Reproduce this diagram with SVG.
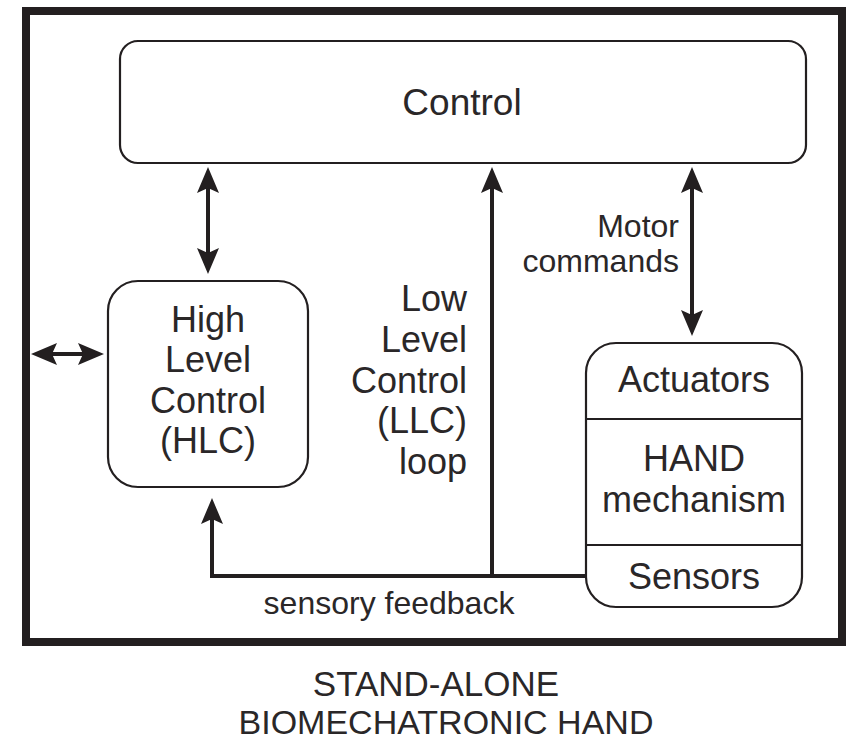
<svg xmlns="http://www.w3.org/2000/svg" width="850" height="742" viewBox="0 0 850 742">
  <style>
    .box { fill: #ffffff; stroke: #231f20; stroke-width: 2.2; }
    .conn { fill: none; stroke: #231f20; stroke-width: 4; }
    .t { font-family: "Liberation Sans", Arial, sans-serif; fill: #2a2728; }
    .big { font-size: 36px; }
    .mid { font-size: 32px; }
  </style>
  <defs>
    <marker id="ah" viewBox="0 0 26 22" refX="16" refY="11" markerWidth="26" markerHeight="22" markerUnits="userSpaceOnUse" orient="auto-start-reverse">
      <path d="M0,0 L26,11 L0,22 L5,11 Z" fill="#231f20"/>
    </marker>
  </defs>
  <rect width="850" height="742" fill="#ffffff"/>
  <g id="frame">
    <rect x="26" y="11" width="816" height="631" fill="none" stroke="#231f20" stroke-width="8"/>
  </g>
  <g id="control">
    <rect class="box" x="120" y="41" width="686" height="122" rx="18"/>
    <text class="t big" x="462" y="115" text-anchor="middle" style="font-size:37px">Control</text>
  </g>
  <g id="hlc">
    <rect class="box" x="108" y="281" width="200" height="206" rx="30"/>
    <text class="t big" x="208" y="332" text-anchor="middle">High</text>
    <text class="t big" x="208" y="372" text-anchor="middle">Level</text>
    <text class="t big" x="208" y="413" text-anchor="middle">Control</text>
    <text class="t big" x="208" y="453" text-anchor="middle">(HLC)</text>
  </g>
  <g id="hand">
    <rect class="box" x="586" y="343" width="216" height="264" rx="30"/>
    <line x1="586" y1="419" x2="802" y2="419" stroke="#231f20" stroke-width="2.2"/>
    <line x1="586" y1="545" x2="802" y2="545" stroke="#231f20" stroke-width="2.2"/>
    <text class="t big" x="694" y="392" text-anchor="middle">Actuators</text>
    <text class="t big" x="694" y="471" text-anchor="middle">HAND</text>
    <text class="t big" x="694" y="512" text-anchor="middle">mechanism</text>
    <text class="t big" x="694" y="589" text-anchor="middle">Sensors</text>
  </g>
  <g id="connectors">
    <line class="conn" x1="208" y1="177" x2="208" y2="264" marker-start="url(#ah)" marker-end="url(#ah)"/>
    <line class="conn" x1="492" y1="576" x2="492" y2="177" marker-end="url(#ah)"/>
    <line class="conn" x1="692" y1="177" x2="692" y2="326" marker-start="url(#ah)" marker-end="url(#ah)"/>
    <line class="conn" x1="41" y1="354" x2="94" y2="354" marker-start="url(#ah)" marker-end="url(#ah)"/>
    <path class="conn" d="M586,576 L212,576 L212,508" marker-end="url(#ah)"/>
  </g>
  <g id="labels">
    <text class="t big" x="467" y="311" text-anchor="end">Low</text>
    <text class="t big" x="467" y="352" text-anchor="end">Level</text>
    <text class="t big" x="467" y="393" text-anchor="end">Control</text>
    <text class="t big" x="467" y="433" text-anchor="end">(LLC)</text>
    <text class="t big" x="467" y="474" text-anchor="end">loop</text>
    <text class="t mid" x="679" y="237" text-anchor="end">Motor</text>
    <text class="t mid" x="679" y="272" text-anchor="end">commands</text>
    <text class="t mid" x="389" y="614" text-anchor="middle">sensory feedback</text>
    <text class="t big" x="436" y="696" text-anchor="middle" style="font-size:35px">STAND-ALONE</text>
    <text class="t big" x="446" y="734" text-anchor="middle" style="font-size:34px">BIOMECHATRONIC HAND</text>
  </g>
</svg>
